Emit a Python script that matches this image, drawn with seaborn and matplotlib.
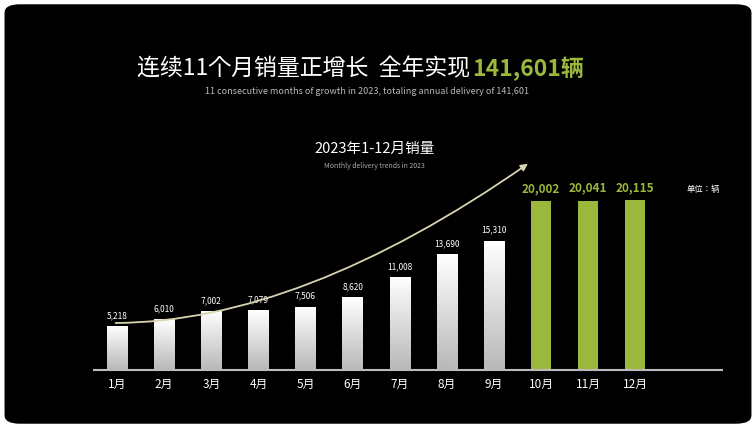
import numpy as np
import pandas as pd
import matplotlib.pyplot as plt
import seaborn as sns
from matplotlib import font_manager
from matplotlib.patches import FancyBboxPatch

cjk = [f.name for f in font_manager.fontManager.ttflist if "Sans CJK" in f.name]
cjk_name = next((n for n in cjk if n.endswith("SC")), cjk[0] if cjk else "DejaVu Sans")
plt.rcParams["font.family"] = [cjk_name, "DejaVu Sans"]

months = ["1月", "2月", "3月", "4月", "5月", "6月", "7月", "8月", "9月", "10月", "11月", "12月"]
sales = [5218, 6010, 7002, 7079, 7506, 8620, 11008, 13690, 15310, 20002, 20041, 20115]
labels = ["5,218", "6,010", "7,002", "7,079", "7,506", "8,620", "11,008", "13,690", "15,310",
          "20,002", "20,041", "20,115"]
highlight = [False] * 9 + [True] * 3

GREEN = "#9bb83c"
df = pd.DataFrame({"month": months, "sales": sales, "hl": highlight})

fig = plt.figure(figsize=(7.56, 4.28), dpi=100)
fig.patch.set_facecolor("white")
fig.patches.append(FancyBboxPatch((0.006, 0.01), 0.988, 0.98, boxstyle="round,pad=0,rounding_size=0.02",
                                  transform=fig.transFigure, facecolor="black", edgecolor="none", zorder=-1))

ax = fig.add_axes([93.5 / 756, 58 / 428, (722 - 93.5) / 756, 270 / 428])
ax.set_facecolor("none")
sns.barplot(data=df, x="month", y="sales", hue="hl", palette={False: "white", True: GREEN},
            width=0.43, legend=False, ax=ax, saturation=1)
ax.set_xlim(-0.5, 12.84)
ax.set_ylim(0, 31950)

# grey-to-white gradient on the white bars
grad = np.linspace(0.72, 1, 256).reshape(-1, 1)
for patch, hl in zip(ax.patches, highlight):
    if hl:
        continue
    x0, w, h = patch.get_x(), patch.get_width(), patch.get_height()
    im = ax.imshow(grad, cmap="gray", vmin=0, vmax=1, origin="lower", aspect="auto",
                   extent=(x0, x0 + w, 0, h), zorder=patch.get_zorder() + 0.1)
    im.set_clip_path(patch)

for i, (v, lab, hl) in enumerate(zip(sales, labels, highlight)):
    ax.text(i, v + 700, lab, ha="center", va="bottom",
            color=GREEN if hl else "white", fontsize=8.5 if hl else 6, fontweight="bold" if hl else "normal")

for s in ["top", "right", "left"]:
    ax.spines[s].set_visible(False)
ax.spines["bottom"].set_color("#bbbbbb")
ax.spines["bottom"].set_linewidth(1.5)
ax.set_yticks([])
ax.set_xlabel("")
ax.set_ylabel("")
ax.tick_params(axis="x", length=0, colors="white", labelsize=8.5, pad=6)

# growth trend arrow: flat start, steep end
ax.annotate("", xy=(8.77, 24600), xytext=(-0.09, 5560),
            arrowprops=dict(arrowstyle="-|>", color="#d8d3b0", lw=1.3,
                            connectionstyle="angle3,angleA=0,angleB=35", mutation_scale=10))

ax.text(12.45, 21300, "单位：辆", color="white", fontsize=6, ha="center", va="center")

fig.text(0.622, 0.84, "连续11个月销量正增长  全年实现", color="white", fontsize=16.5, ha="right", va="center")
fig.text(0.624, 0.84, "141,601辆", color=GREEN, fontsize=16.5, fontweight="bold", ha="left", va="center")
fig.text(0.485, 0.787, "11 consecutive months of growth in 2023, totaling annual delivery of 141,601",
         color="#bbbbbb", fontsize=6.5, ha="center", va="center")
fig.text(0.495, 0.652, "2023年1-12月销量", color="white", fontsize=10.5, ha="center", va="center")
fig.text(0.495, 0.612, "Monthly delivery trends in 2023", color="#aaaaaa", fontsize=5, ha="center", va="center")

fig.savefig("out.png", dpi=100, facecolor=fig.get_facecolor())
